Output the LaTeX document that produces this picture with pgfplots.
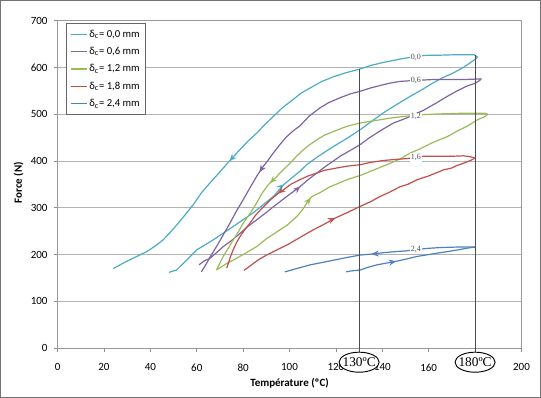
\documentclass[border=0pt]{standalone}
\usepackage{fontspec}
\setmainfont{Carlito}
\newfontfamily\serifl{Liberation Serif}
\usepackage{pgfplots}
\pgfplotsset{compat=1.18}
\usetikzlibrary{decorations.markings,arrows.meta}
\definecolor{cyanc}{RGB}{75,172,198}
\definecolor{purplec}{RGB}{128,100,162}
\definecolor{greenc}{RGB}{155,187,89}
\definecolor{redc}{RGB}{192,80,77}
\definecolor{bluec}{RGB}{79,129,189}
\tikzset{arr/.style={postaction={decorate},decoration={markings,mark=at position #1 with {\arrow{Stealth[length=5.5pt,width=4.5pt]}}}}}
\begin{document}
\begin{tikzpicture}
\begin{axis}[
  scale only axis, width=347.25pt, height=245.25pt,
  xmin=0, xmax=200, ymin=0, ymax=700,
  xtick={0,20,...,200}, ytick={0,100,...,700},
  xticklabels={0,20,40,60,80,100,120,140,160,{},200},
  ymajorgrids, grid style={black!30, line width=0.6pt},
  axis line style={black!40, line width=0.6pt},
  tick style={black!45, line width=0.6pt},
  tick align=outside, major tick length=3pt,
  xtick pos=bottom, ytick pos=left,
  clip=false,
  /pgf/number format/assume math mode=true,
  ticklabel style={font=\fontsize{8.25}{9}\selectfont},
  xticklabel style={yshift=-5pt},
  yticklabel style={xshift=-1pt},
  xlabel={\textbf{Température (ºC)}},
  ylabel={\textbf{Force (N)}},
  xlabel style={at={(axis description cs:0.5,-0.107)}, anchor=center, font=\fontsize{8.25}{9}\selectfont},
  ylabel style={at={(axis description cs:-0.0842,0.505)}, anchor=center, font=\fontsize{8.25}{9}\selectfont},
  legend style={at={(axis description cs:0.019,0.991)}, anchor=north west, draw=black!60, line width=0.6pt,
    font=\fontsize{8}{9}\selectfont, inner sep=3pt, row sep=3.5pt,
    nodes={inner sep=1pt, text height=6pt, text depth=1.5pt}},
  legend cell align=left,
  legend image code/.code={\draw[#1] (0pt,0pt) -- (12pt,0pt);},
  every axis plot/.append style={line width=0.9pt},
]
% legend
\addlegendimage{cyanc, line width=0.9pt}
\addlegendentry{δ\textsubscript{c}= 0,0 mm}
\addlegendimage{purplec, line width=0.9pt}
\addlegendentry{δ\textsubscript{c}= 0,6 mm}
\addlegendimage{greenc, line width=0.9pt}
\addlegendentry{δ\textsubscript{c}= 1,2 mm}
\addlegendimage{redc, line width=0.9pt}
\addlegendentry{δ\textsubscript{c}= 1,8 mm}
\addlegendimage{bluec, line width=0.9pt}
\addlegendentry{δ\textsubscript{c}= 2,4 mm}

% cyan 0,0
\addplot[cyanc, forget plot, arr=0.39] coordinates {
(48,162) (51.3,167) (55.6,188) (60,210) (67,231) (75.7,260) (84.3,289) (93,324) (97.6,350) (104.5,378) (107.4,392) (113,412) (119,431) (125,449) (130.5,467) (140.5,503) (146,520) (152,538) (157,552) (162,567) (166,578) (170.6,588) (175,600) (180,617)};
\addplot[cyanc, forget plot, arr=0.64] coordinates {
(180,617) (181,622) (179.5,627) (172,627) (165,626) (160,626) (155,624) (148,618) (140,610) (135,604) (130,596) (124,588) (119,580) (114,570) (110,559) (105,545) (101.5,531) (97,514) (93,495) (89,476) (86,460) (82,442) (78.6,424) (76,410) (73.4,396) (69.5,374) (65.7,353) (62,332) (59,310) (55.5,288) (52,267) (48.5,247) (45.4,231) (42,218) (38.3,206) (32.5,192) (28,181) (24,170)};

% purple 0,6
\addplot[purplec, forget plot, arr=0.38] coordinates {
(61,178) (63,186) (65.7,192) (68.5,204) (71.4,217) (75,230) (78.6,245) (82,260) (85.8,274) (90,290) (93,302) (98.8,324) (104.5,345) (108,360) (111.7,374) (116,390) (121.8,410) (126,422) (130.5,435) (134,448) (137.7,460) (141,470) (144.8,481) (150.6,492) (154,500) (157.7,508) (163,523) (168,538) (172,549) (176.5,560) (180,566) (182,572)};
\addplot[purplec, forget plot, arr=0.69] coordinates {
(182,572) (182.5,575) (181,575) (175,574) (168,574) (162,574) (154,572) (147.7,570) (144,567) (140.5,563) (135,556) (130.5,549) (126,543) (121.8,535) (117,525) (113,513) (108.5,496) (104.5,475) (101.5,464) (98.8,452) (96,436) (93,417) (90.5,400) (88.6,388) (85.8,367) (83,343) (80,317) (77,292) (74.3,267) (71.4,242) (68.5,217) (66,197) (64.2,181) (62,163)};

% green 1,2
\addplot[greenc, forget plot, arr=0.38] coordinates {
(68.5,167) (72.9,181) (75.7,188) (80,200) (85.8,217) (90.1,234) (95.9,253) (99,263) (103.1,281) (105.5,295) (107.4,310) (109.6,324) (113,332) (117.5,345) (121,352) (124.7,360) (130.5,369) (137,382) (143.4,395) (148,405) (152,417) (156.4,426) (160.7,437) (164,444) (168,452) (172,463) (176.5,474) (181,488) (184.4,495) (185.5,500)};
\addplot[greenc, forget plot, arr=0.70] coordinates {
(185.5,500) (184,502) (180,502) (175,502) (168,501) (162,500) (157.8,499) (149,495) (144,492) (139,488) (134,484) (130.5,481) (124.7,474) (119,463) (115,455) (111.7,445) (108.5,434) (106,424) (103,410) (100.2,395) (97,380) (94.5,367) (90.8,349) (88,330) (85.8,310) (83,288) (80,267) (78,249) (75.7,231) (73.5,213) (71.4,196) (69.8,180) (68.5,167)};

% red 1,8
\addplot[redc, forget plot, arr=0.41] coordinates {
(80.3,166) (82,172) (84.4,181) (87,190) (90.1,199) (95,211) (100.2,224) (105,238) (110.3,253) (115,265) (119.7,278) (125,290) (130.5,303) (135,313) (139,324) (143,333) (147.7,345) (151,350) (155,360) (160,368) (163,374) (166.4,381) (170,385) (172,390) (175,395) (178,401) (180,406)};
\addplot[redc, forget plot, arr=0.69] coordinates {
(180,406) (178,409) (175,411) (170,410) (165,410) (157.8,410) (150.6,405) (145,403) (140.5,401) (135,397) (130.5,392) (125,389) (120.4,385) (115,380) (111.7,374) (108,368) (104.5,360) (100.5,350) (97.3,338) (95.2,331) (92,318) (88.7,302) (85.5,285) (82.9,267) (80.5,252) (78.6,238) (77,224) (75.7,210) (74.5,195) (73.6,181) (72.9,171)};

% blue 2,4
\addplot[bluec, forget plot, arr=0.39] coordinates {
(124.4,163) (126.5,165) (130.5,167) (134,173) (137.7,178) (142,182) (146.3,186) (150,190) (155,196) (160,200) (165,204) (169,207) (173.7,211) (177,214) (180,216)};
\addplot[bluec, forget plot, arr=0.54] coordinates {
(180,216) (176,216) (172,216) (165,215) (159,213) (150.6,208) (145,206) (140.5,204) (135.5,201) (130.5,199) (125,194) (119,188) (114,183) (108.9,178) (103,170) (98,163)};

% inline labels
\foreach \yy/\tt in {622/{0,0},572/{0,6},494/{1,2},407/{1,6},210/{2,4}} {
  \edef\tmp{\noexpand\node[fill=white, inner sep=0.8pt, text=black!70, font=\noexpand\serifl\noexpand\fontsize{6}{6}\noexpand\selectfont] at (axis cs:154.5,\yy) {\tt};}
  \tmp
}
% vertical lines
\draw[black!70, line width=0.8pt] (axis cs:130,597) -- (axis cs:130,-9);
\draw[black!70, line width=0.8pt] (axis cs:180,626) -- (axis cs:180,-9);
\coordinate (e130) at (axis cs:130,-30);
\coordinate (e180) at (axis cs:180,-30);
% outer frame
\draw[black!55, line width=0.75pt] (axis description cs:-0.1231,-0.1498) rectangle (axis description cs:1.0410,1.0612);
\end{axis}
\foreach \c/\t in {e130/130,e180/180} {
  \draw[black, line width=0.7pt, fill=white] (\c) ellipse [x radius=15pt, y radius=7.5pt];
  \node[inner sep=0pt, font=\serifl\fontsize{10}{10}\selectfont] at (\c) {\t ºC};
}
\end{tikzpicture}
\end{document}
